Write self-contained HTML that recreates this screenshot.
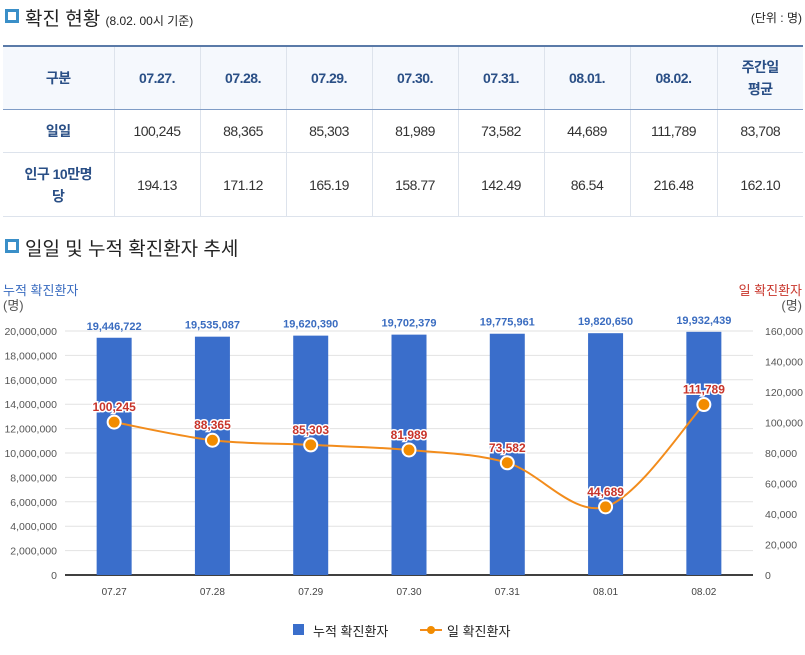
<!DOCTYPE html>
<html><head><meta charset="utf-8"><style>
body{margin:0;background:#fff;font-family:"Liberation Sans","Noto Sans CJK KR",sans-serif;width:805px;height:655px;overflow:hidden;position:relative}
.t{position:absolute;white-space:nowrap}
.icon{position:absolute;width:8px;height:8px;border:3px solid #3a8fc8;background:#fff}
table{position:absolute;left:3px;top:45px;width:800px;border-collapse:collapse;table-layout:fixed;border-top:2px solid #5a7aa8;font-size:14px;color:#333}
td{border:1px solid #dde3ec;text-align:center;padding:0;letter-spacing:-0.5px}
tr.h td{background:#f5f8fd;color:#2a4f86;font-weight:bold;height:62px;border-bottom:1px solid #7f9cc6}
td:first-child{border-left:none}td:last-child{border-right:none}
</style></head><body>
<div class="icon" style="left:5px;top:9px"></div>
<div class="t" style="left:25px;top:4px;font-size:19px;color:#222">확진 현황 <span style="font-size:12px">(8.02. 00시 기준)</span></div>
<div class="t" style="right:3px;top:9px;font-size:12px;color:#222">(단위 : 명)</div>
<table>
<colgroup><col style="width:111px"><col style="width:86px"><col style="width:86px"><col style="width:86px"><col style="width:86px"><col style="width:86px"><col style="width:86px"><col style="width:87px"><col style="width:86px"></colgroup>
<tr class="h"><td>구분</td><td>07.27.</td><td>07.28.</td><td>07.29.</td><td>07.30.</td><td>07.31.</td><td>08.01.</td><td>08.02.</td><td style="line-height:22px">주간일<br>평균</td></tr>
<tr style="height:43px"><td style="color:#2a4f86;font-weight:bold">일일</td><td>100,245</td><td>88,365</td><td>85,303</td><td>81,989</td><td>73,582</td><td>44,689</td><td>111,789</td><td>83,708</td></tr>
<tr style="height:64px"><td style="color:#2a4f86;font-weight:bold;line-height:22px">인구 10만명<br>당</td><td>194.13</td><td>171.12</td><td>165.19</td><td>158.77</td><td>142.49</td><td>86.54</td><td>216.48</td><td>162.10</td></tr>
</table>
<div class="icon" style="left:5px;top:239px"></div>
<div class="t" style="left:25px;top:234px;font-size:19px;color:#222">일일 및 누적 확진환자 추세</div>
<svg id="c" width="805" height="655" style="position:absolute;left:0;top:0"></svg>
<script>
const categories=["07.27","07.28","07.29","07.30","07.31","08.01","08.02"];
const cumulative=[19446722,19535087,19620390,19702379,19775961,19820650,19932439];
const daily=[100245,88365,85303,81989,73582,44689,111789];
const leftTicks=[0,2000000,4000000,6000000,8000000,10000000,12000000,14000000,16000000,18000000,20000000];
const rightTicks=[0,20000,40000,60000,80000,100000,120000,140000,160000];
const svg=document.getElementById('c');const NS='http://www.w3.org/2000/svg';
const X0=65,X1=753,Y0=575,Y1=331;
const bw=(X1-X0)/categories.length;
const xc=i=>X0+bw*(i+0.5);
const yL=v=>Y0-(v/20000000)*(Y0-Y1);
const yR=v=>Y0-(v/160000)*(Y0-Y1);
const fmt=v=>v.toLocaleString('en-US');
function el(tag,a,txt){const e=document.createElementNS(NS,tag);for(const k in a)e.setAttribute(k,a[k]);if(txt!=null)e.textContent=txt;svg.appendChild(e);return e;}
leftTicks.forEach(v=>{
 const g=el('line',{x1:X0,x2:X1,y1:yL(v),y2:yL(v),stroke:v?'#e2e2e2':'#000','stroke-width':v?1:1.5});
 
 const t=el('text',{x:57,y:yL(v)+4,'text-anchor':'end','font-size':10.5,fill:'#555'},fmt(v));
 
});
rightTicks.forEach(v=>{
 const t=el('text',{x:765,y:yR(v)+4,'font-size':10.5,fill:'#555'},fmt(v));
 
});
categories.forEach((c,i)=>{
 const b=el('rect',{x:xc(i)-17.5,y:yL(cumulative[i]),width:35,height:Y0-yL(cumulative[i]),fill:'#3a6ecb'});
 
 const t=el('text',{x:xc(i),y:yL(cumulative[i])-8,'text-anchor':'middle','font-size':11,'font-weight':'bold',fill:'#3a6cc0'},fmt(cumulative[i]));
 
 const x=el('text',{x:xc(i),y:595,'text-anchor':'middle','font-size':10,fill:'#444'},c);
 
});
const pts=daily.map((v,i)=>[xc(i),yR(v)]);
let d='M'+pts[0][0]+','+pts[0][1];
for(let i=0;i<pts.length-1;i++){const p0=pts[Math.max(0,i-1)],p1=pts[i],p2=pts[i+1],p3=pts[Math.min(pts.length-1,i+2)];const k=6;
 d+=` C${p1[0]+(p2[0]-p0[0])/k},${p1[1]+(p2[1]-p0[1])/k} ${p2[0]-(p3[0]-p1[0])/k},${p2[1]-(p3[1]-p1[1])/k} ${p2[0]},${p2[1]}`;}
const ln=el('path',{d:d,fill:'none',stroke:'#f28c1c','stroke-width':2});

pts.forEach((p,i)=>{
 const c=el('circle',{cx:p[0],cy:p[1],r:6.5,fill:'#f28c00',stroke:'#fff','stroke-width':2});
 
 const t=el('text',{x:p[0],y:p[1]-11,'text-anchor':'middle','font-size':12,'font-weight':'bold',fill:'#c8342a',stroke:'#fff','stroke-width':3,'paint-order':'stroke'},fmt(daily[i]));
 
});
</script>
<div class="t" style="left:3px;top:283px;font-size:13px;color:#3a6cc0;line-height:15px">누적 확진환자<br><span style="color:#555">(명)</span></div>
<div class="t" style="right:3px;top:283px;font-size:13px;color:#c8342a;line-height:15px;text-align:right">일 확진환자<br><span style="color:#555">(명)</span></div>
<div>
<div class="t" style="left:293px;top:624px;width:11px;height:11px;background:#3a6ecb"></div>
<div class="t" style="left:313px;top:621px;font-size:13px;color:#222">누적 확진환자</div>
<div class="t" style="left:420px;top:629px;width:22px;height:2px;background:#f28c1c"></div>
<div class="t" style="left:427px;top:626px;width:8px;height:8px;border-radius:50%;background:#f28c00"></div>
<div class="t" style="left:447px;top:621px;font-size:13px;color:#222">일 확진환자</div>
</div>
</body></html>
